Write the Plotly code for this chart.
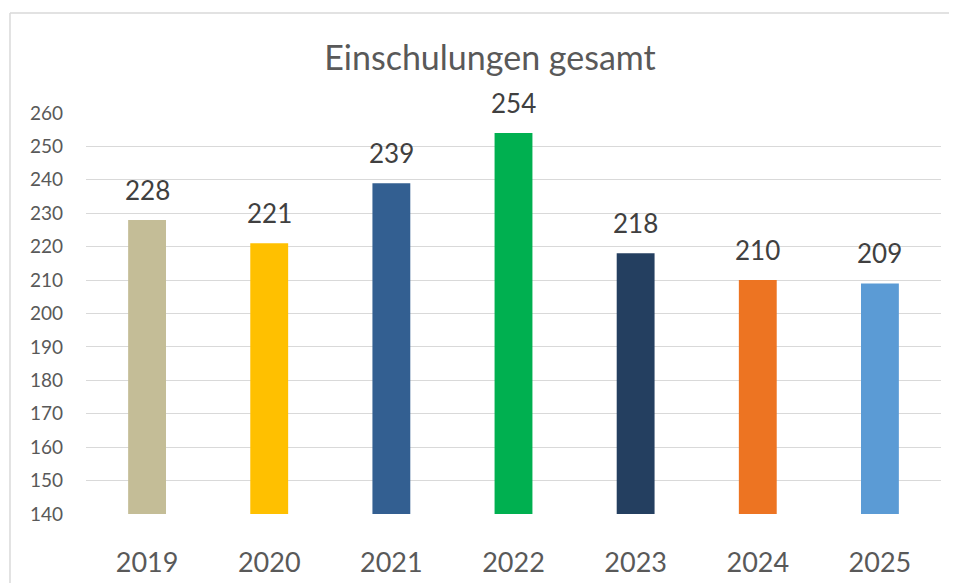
import plotly.graph_objects as go

years = ["2019", "2020", "2021", "2022", "2023", "2024", "2025"]
values = [228, 221, 239, 254, 218, 210, 209]
colors = ["#C4BD97", "#FFC000", "#335F91", "#00B050", "#243F60", "#ED7422", "#5B9BD5"]
y_ticks = list(range(140, 261, 10))

FONT = "Lato, 'Open Sans', sans-serif"

fig = go.Figure(
    go.Bar(
        x=years,
        y=values,
        marker=dict(color=colors, line=dict(width=0)),
        hoverinfo="x+y",
    )
)

# data labels above bars (category index positions)
for i, v in enumerate(values):
    fig.add_annotation(
        x=i, y=v, text=str(v), showarrow=False,
        xref="x", yref="y",
        yanchor="middle", yshift=30,
        font=dict(size=26, color="#404040", family=FONT),
    )

border = dict(color="#D9D9D9", width=1.5)

# page has an 8px body margin, so the figure is 8px smaller and shifted
fig.update_layout(
    width=949,
    height=575,
    margin=dict(l=78, r=16, t=105, b=69),
    paper_bgcolor="white",
    plot_bgcolor="white",
    bargap=0.69,
    showlegend=False,
    title=dict(
        text="Einschulungen gesamt",
        x=0.4725, xref="paper", xanchor="center",
        y=1 - 50 / 575, yanchor="middle",
        font=dict(size=34, color="#595959", family=FONT),
    ),
    font=dict(family=FONT, color="#595959"),
    xaxis=dict(
        type="category",
        categoryorder="array",
        categoryarray=years,
        range=[-0.5, len(years) - 0.5],
        showgrid=False,
        showline=False,
        ticks="",
        automargin=False,
        tickfont=dict(size=27, color="#595959"),
        ticklabelstandoff=30,
    ),
    yaxis=dict(
        range=[140, 260],
        tickvals=y_ticks,
        showgrid=True,
        gridcolor="#D9D9D9",
        gridwidth=1,
        zeroline=False,
        showline=False,
        ticks="",
        automargin=False,
        tickfont=dict(size=19, color="#595959"),
        ticklabelstandoff=22,
    ),
    shapes=[
        dict(type="line", xref="paper", yref="paper",
             x0=-0.0889, x1=1.2, y0=1.2494, y1=1.2494, line=border, layer="below"),
        dict(type="line", xref="paper", yref="paper",
             x0=-0.0889, x1=-0.0889, y0=-0.3, y1=1.2494, line=border, layer="below"),
    ],
)

fig.write_html("out.html")
